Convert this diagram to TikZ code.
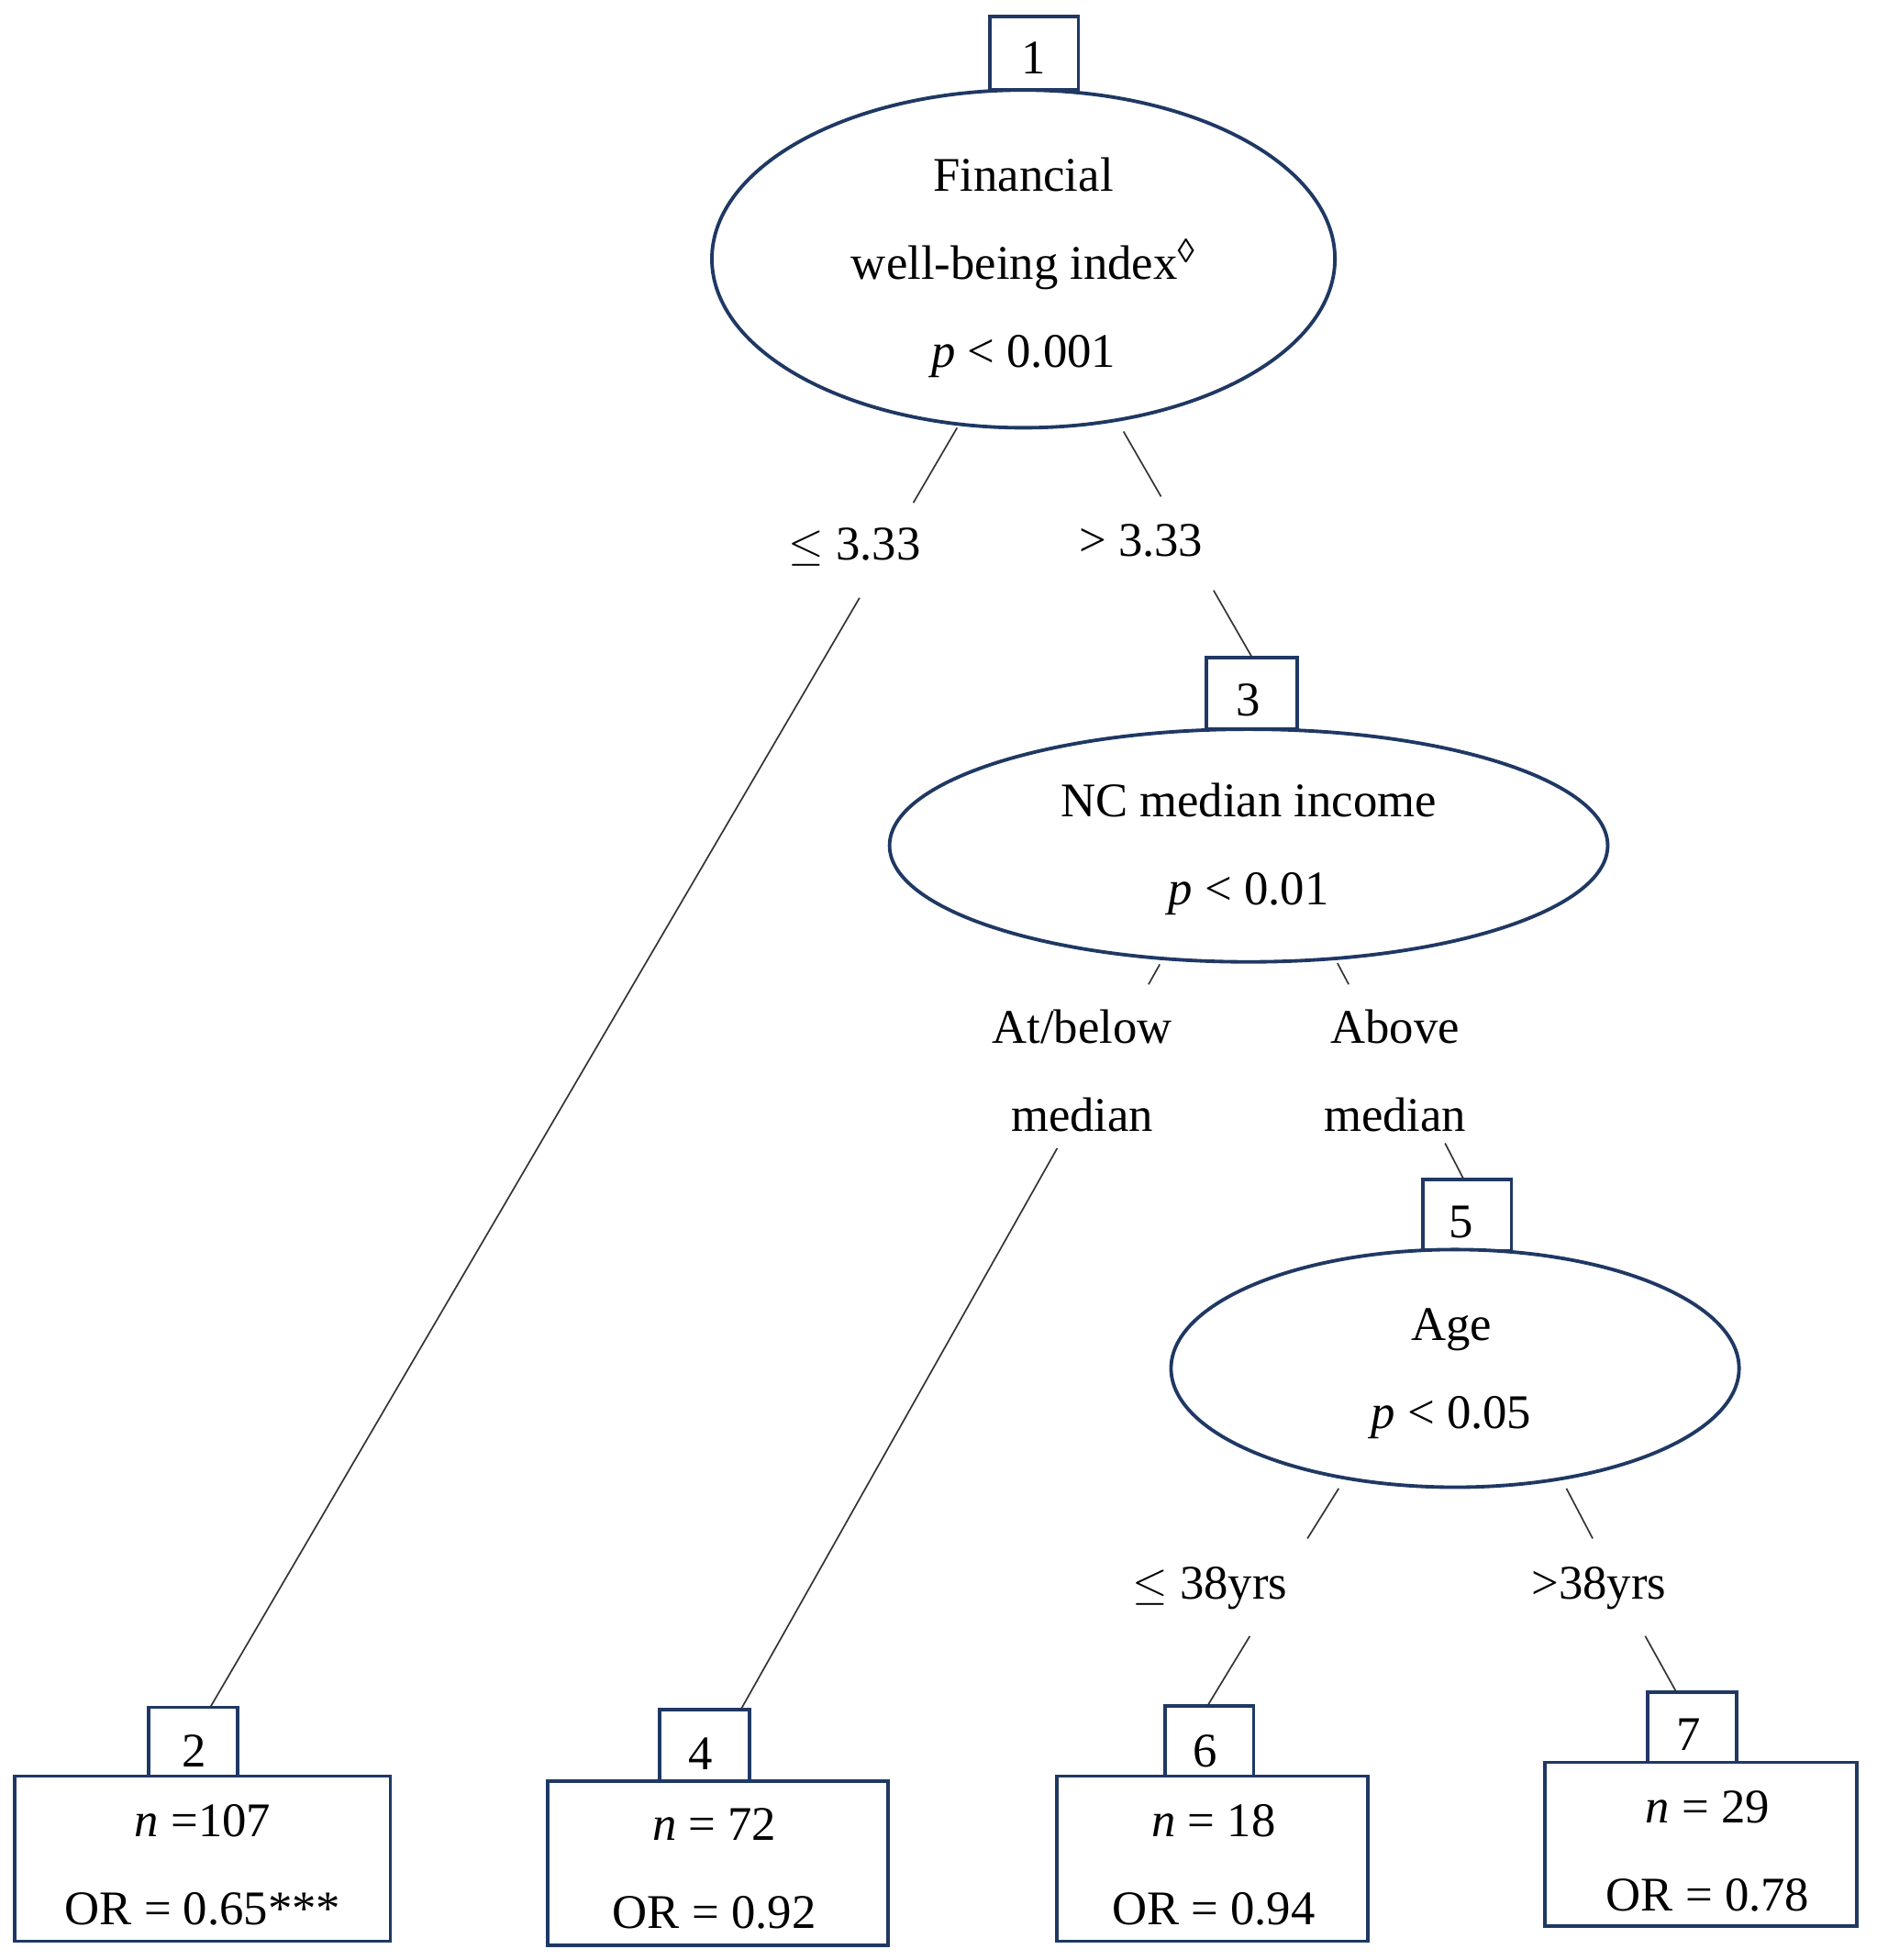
\documentclass[tikz,border=0pt]{standalone}
\usepackage{fontspec}
\setmainfont{Liberation Serif}
\begin{document}
\begin{tikzpicture}[x=0.02cm,y=-0.02cm,
  nv/.style={draw=navy,line width=1.6pt},
  lbl/.style={font=\fontsize{22}{40}\selectfont,align=center},
  ln/.style={draw=black!80,line width=0.7pt}]
\definecolor{navy}{HTML}{1F3864}
\useasboundingbox (0,0) rectangle (1500,1567);
% node 1
\draw[nv,fill=white] (791,13) rectangle (862,72);
\node[lbl] (n1) at (826,46) {1};
\draw[nv,fill=white] (818,207) ellipse [x radius=249,y radius=135];
\node[lbl] (e1) at (818,214) {Financial\\well-being index\textsuperscript{◊}\\\textit{p} < 0.001};
% node 3
\draw[nv,fill=white] (964,526) rectangle (1037,583);
\node[lbl] (n3) at (998,560) {3};
\draw[nv,fill=white] (998,676) ellipse [x radius=287,y radius=93];
\node[lbl] (e3) at (998,679) {NC median income\\\textit{p} < 0.01};
% node 5
\draw[nv,fill=white] (1137,943) rectangle (1208,1000);
\node[lbl] (n5) at (1168,977) {5};
\draw[nv,fill=white] (1163,1094) ellipse [x radius=227,y radius=95];
\node[lbl] (e5) at (1160,1098) {Age\\\textit{p} < 0.05};
% leaves
\draw[nv] (119,1365) rectangle (190,1420); \node[lbl] (n2) at (155,1400) {2};
\draw[nv] (12,1420) rectangle (312,1552);
\node[lbl] (t2) at (162,1491) {\textit{n} =107\\OR = 0.65***};
\draw[nv] (527,1367) rectangle (599,1424); \node[lbl] (n4) at (560,1402) {4};
\draw[nv] (438,1424) rectangle (710,1555);
\node[lbl] (t4) at (571,1494) {\textit{n} = 72\\OR = 0.92};
\draw[nv] (931,1364) rectangle (1002,1420); \node[lbl] (n6) at (963,1400) {6};
\draw[nv] (845,1420) rectangle (1093,1552);
\node[lbl] (t6) at (970,1491) {\textit{n} = 18\\OR = 0.94};
\draw[nv] (1317,1353) rectangle (1388,1409); \node[lbl] (n7) at (1350,1387) {7};
\draw[nv] (1235,1409) rectangle (1484,1540);
\node[lbl] (t7) at (1365,1480) {\textit{n} = 29\\OR = 0.78};
% labels
\node[lbl] (l1) at (683,437) {$\leq$ 3.33};
\node[lbl] (l2) at (912,432) {> 3.33};
\node[lbl] (l3) at (865,856) {At/below\\median};
\node[lbl] (l4) at (1115,856) {Above\\median};
\node[lbl] (l5) at (967,1270) {$\leq$ 38yrs};
\node[lbl] (l6) at (1278,1270) {>38yrs};
% connectors
\coordinate (a1) at (765,342); \coordinate (a2) at (730,402);
\coordinate (a3) at (687,478); \coordinate (a4) at (168,1365);
\coordinate (b1) at (898,345); \coordinate (b2) at (928,397);
\coordinate (b3) at (970,472); \coordinate (b4) at (1001,526);
\coordinate (c1) at (927,771); \coordinate (c2) at (918,787);
\coordinate (c3) at (845,918); \coordinate (c4) at (592,1367);
\coordinate (d1) at (1069,770); \coordinate (d2) at (1078,787);
\coordinate (d3) at (1155,914); \coordinate (d4) at (1170,943);
\coordinate (f1) at (1070,1190); \coordinate (f2) at (1045,1230);
\coordinate (f3) at (999,1308); \coordinate (f4) at (965,1364);
\coordinate (g1) at (1252,1190); \coordinate (g2) at (1273,1230);
\coordinate (g3) at (1315,1308); \coordinate (g4) at (1340,1353);
\foreach \p in {a,b,c,d,f,g}{
  \draw[ln] (\p1) -- (\p2); \draw[ln] (\p3) -- (\p4);}
\end{tikzpicture}
\end{document}
